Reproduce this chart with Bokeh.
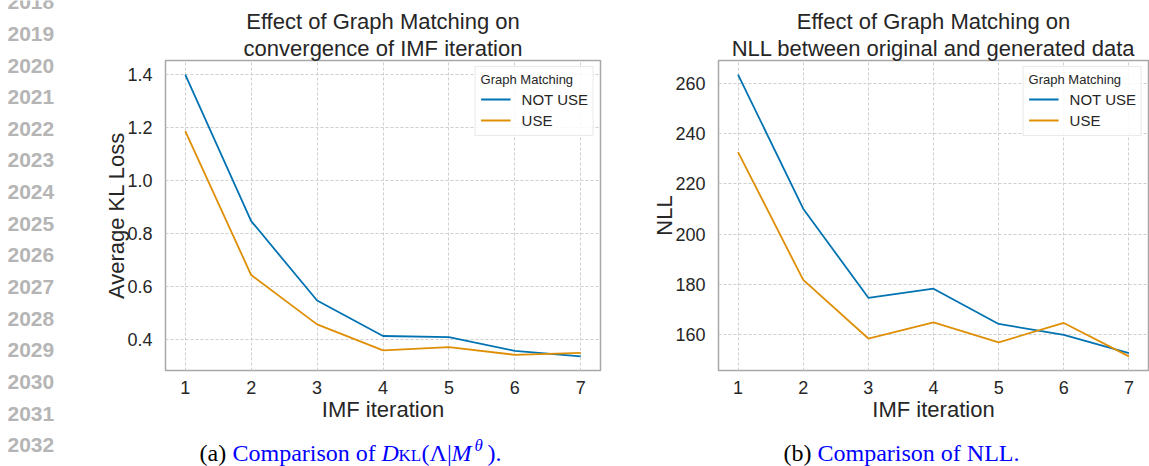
from bokeh.plotting import figure
from bokeh.models import Range1d, FixedTicker, Title, CustomJSTickFormatter
from bokeh.layouts import row, column
from bokeh.embed import file_html
from bokeh.resources import INLINE
from bokeh.core.properties import value

# ---------------- data ----------------
iterations = [1, 2, 3, 4, 5, 6, 7]
iteration_labels = ["1", "2", "3", "4", "5", "6", "7"]

kl_not_use = [1.400, 0.847, 0.547, 0.413, 0.409, 0.357, 0.336]
kl_use = [1.187, 0.643, 0.457, 0.359, 0.371, 0.342, 0.349]
kl_ticks = [0.4, 0.6, 0.8, 1.0, 1.2, 1.4]
kl_tick_labels = ["0.4", "0.6", "0.8", "1.0", "1.2", "1.4"]

nll_not_use = [263.4, 210.1, 174.7, 178.3, 164.3, 160.0, 152.7]
nll_use = [232.6, 181.8, 158.5, 164.9, 157.0, 164.7, 151.4]
nll_ticks = [160, 180, 200, 220, 240, 260]
nll_tick_labels = ["160", "180", "200", "220", "240", "260"]

series_labels = ["NOT USE", "USE"]
series_colors = ["#0173b2", "#de8f05"]

line_numbers = list(range(2018, 2033))

# ---------------- style ----------------
SANS = "Liberation Sans"
SERIF = "Liberation Serif"
INK = "#262626"
CAPTION_BLUE = "#0000ff"
CHART_H = 426
PAGE_H = 466

label_formatter_code = """
let best = 0;
for (let i = 0; i < positions.length; i++) {
    if (Math.abs(positions[i] - tick) < Math.abs(positions[best] - tick)) best = i;
}
return names[best];
"""


def padded(lo, hi, frac=0.05):
    span = hi - lo
    return Range1d(lo - frac * span, hi + frac * span)


def make_chart(title_lines, y_label, series, y_ticks, y_tick_labels,
               width, border_left, border_right):
    all_y = [v for s in series for v in s]
    p = figure(width=width, height=CHART_H,
               x_range=padded(min(iterations), max(iterations)),
               y_range=padded(min(all_y), max(all_y)),
               output_backend="svg", toolbar_location=None,
               min_border_left=border_left, min_border_right=border_right,
               min_border_top=60, min_border_bottom=CHART_H - 370,
               background_fill_color="white", border_fill_color="white",
               outline_line_color="#a8a8a8", outline_line_width=1.5)

    # two-line title: inner line first, outer line stacked above it
    for text in reversed(title_lines):
        p.add_layout(Title(text=text, align="center", text_font=SANS,
                           text_font_size="22px", text_font_style="normal",
                           text_color=INK, standoff=0), "above")

    for ys, label, color in zip(series, series_labels, series_colors):
        p.line(iterations, ys, line_color=color, line_width=1.8,
               legend_label=label)

    p.xaxis.ticker = FixedTicker(ticks=iterations)
    p.xaxis.formatter = CustomJSTickFormatter(
        args=dict(positions=iterations, names=iteration_labels),
        code=label_formatter_code)
    p.yaxis.ticker = FixedTicker(ticks=y_ticks)
    p.yaxis.formatter = CustomJSTickFormatter(
        args=dict(positions=y_ticks, names=y_tick_labels),
        code=label_formatter_code)
    p.xaxis.axis_label = "IMF iteration"
    p.yaxis.axis_label = y_label

    for ax in p.axis:
        ax.axis_line_color = None
        ax.major_tick_line_color = None
        ax.minor_tick_line_color = None
        ax.major_label_text_font = SANS
        ax.major_label_text_font_size = "18px"
        ax.major_label_text_color = INK
        ax.axis_label_text_font = SANS
        ax.axis_label_text_font_size = "22px"
        ax.axis_label_text_font_style = "normal"
        ax.axis_label_text_color = INK
    p.xaxis.major_label_standoff = 4
    p.xaxis.axis_label_standoff = 0
    p.yaxis.major_label_standoff = 7
    p.yaxis.axis_label_standoff = -5

    p.xgrid.ticker = FixedTicker(ticks=iterations)
    p.ygrid.ticker = FixedTicker(ticks=y_ticks)
    p.grid.grid_line_color = "#cfcfcf"
    p.grid.grid_line_dash = "3 2"
    p.grid.grid_line_width = 1

    lg = p.legend[0]
    lg.title = "Graph Matching"
    lg.title_text_font = SANS
    lg.title_text_font_size = "13px"
    lg.title_text_font_style = "normal"
    lg.title_text_color = INK
    lg.title_standoff = 2
    lg.label_text_font = SANS
    lg.label_text_font_size = "15px"
    lg.label_text_color = INK
    lg.location = "top_right"
    lg.margin = 6
    lg.padding = 5
    lg.spacing = 1
    lg.glyph_width = 30
    lg.glyph_height = 20
    lg.label_height = 20
    lg.label_standoff = 11
    lg.border_line_color = "#d6d6d6"
    lg.border_line_width = 1
    lg.background_fill_alpha = 0.85
    return p


chart_kl = make_chart(["Effect of Graph Matching on",
                       "convergence of IMF iteration"],
                      "Average KL Loss", [kl_not_use, kl_use],
                      kl_ticks, kl_tick_labels,
                      width=560, border_left=85, border_right=40)

chart_nll = make_chart(["Effect of Graph Matching on",
                        "NLL between original and generated data"],
                       "NLL", [nll_not_use, nll_use],
                       nll_ticks, nll_tick_labels,
                       width=509, border_left=78, border_right=1)


def blank(width, height, x_range, y_range):
    f = figure(width=width, height=height, x_range=x_range, y_range=y_range,
               output_backend="svg", toolbar_location=None, min_border=0,
               x_axis_location=None, y_axis_location=None,
               outline_line_color=None, background_fill_color="white",
               border_fill_color="white")
    f.grid.visible = False
    return f


# line-number gutter (y axis counts manuscript lines)
gutter = blank(80, PAGE_H, Range1d(0, 80), Range1d(2032.67, 2017.946))
gutter.text(x=[7] * len(line_numbers), y=line_numbers,
            text=[str(n) for n in line_numbers],
            text_font=value(SANS), text_font_style="bold",
            text_font_size="21px", text_color="#b5b5b5",
            text_align="left", text_baseline="middle")

# sub-figure captions (canvas-pixel coordinates, y grows downward)
captions = blank(1069, PAGE_H - CHART_H, Range1d(80, 1149),
                 Range1d(PAGE_H, CHART_H))


def cap(x, y, text, color=CAPTION_BLUE, size="24px", style="normal"):
    captions.text(x=[x], y=[y], text=[text], text_font=value(SERIF),
                  text_font_size=size, text_font_style=style,
                  text_color=color, text_align="left",
                  text_baseline="middle")


mid = 452
cap(199, mid, "(a)", color="black")
cap(232, mid, "Comparison of")
cap(381, mid, "D", style="italic")
cap(398, mid + 3, "KL", size="17px")
cap(421, mid, "(\u039b|")
cap(451, mid, "M", style="italic")
cap(474, mid - 7, "\u03b8", size="17px", style="italic")
cap(487, mid, ").")

cap(783, mid, "(b)", color="black")
cap(817, mid, "Comparison of NLL.")

layout = row(gutter, column(row(chart_kl, chart_nll), captions))

open("out.html", "w").write(file_html(layout, INLINE))
